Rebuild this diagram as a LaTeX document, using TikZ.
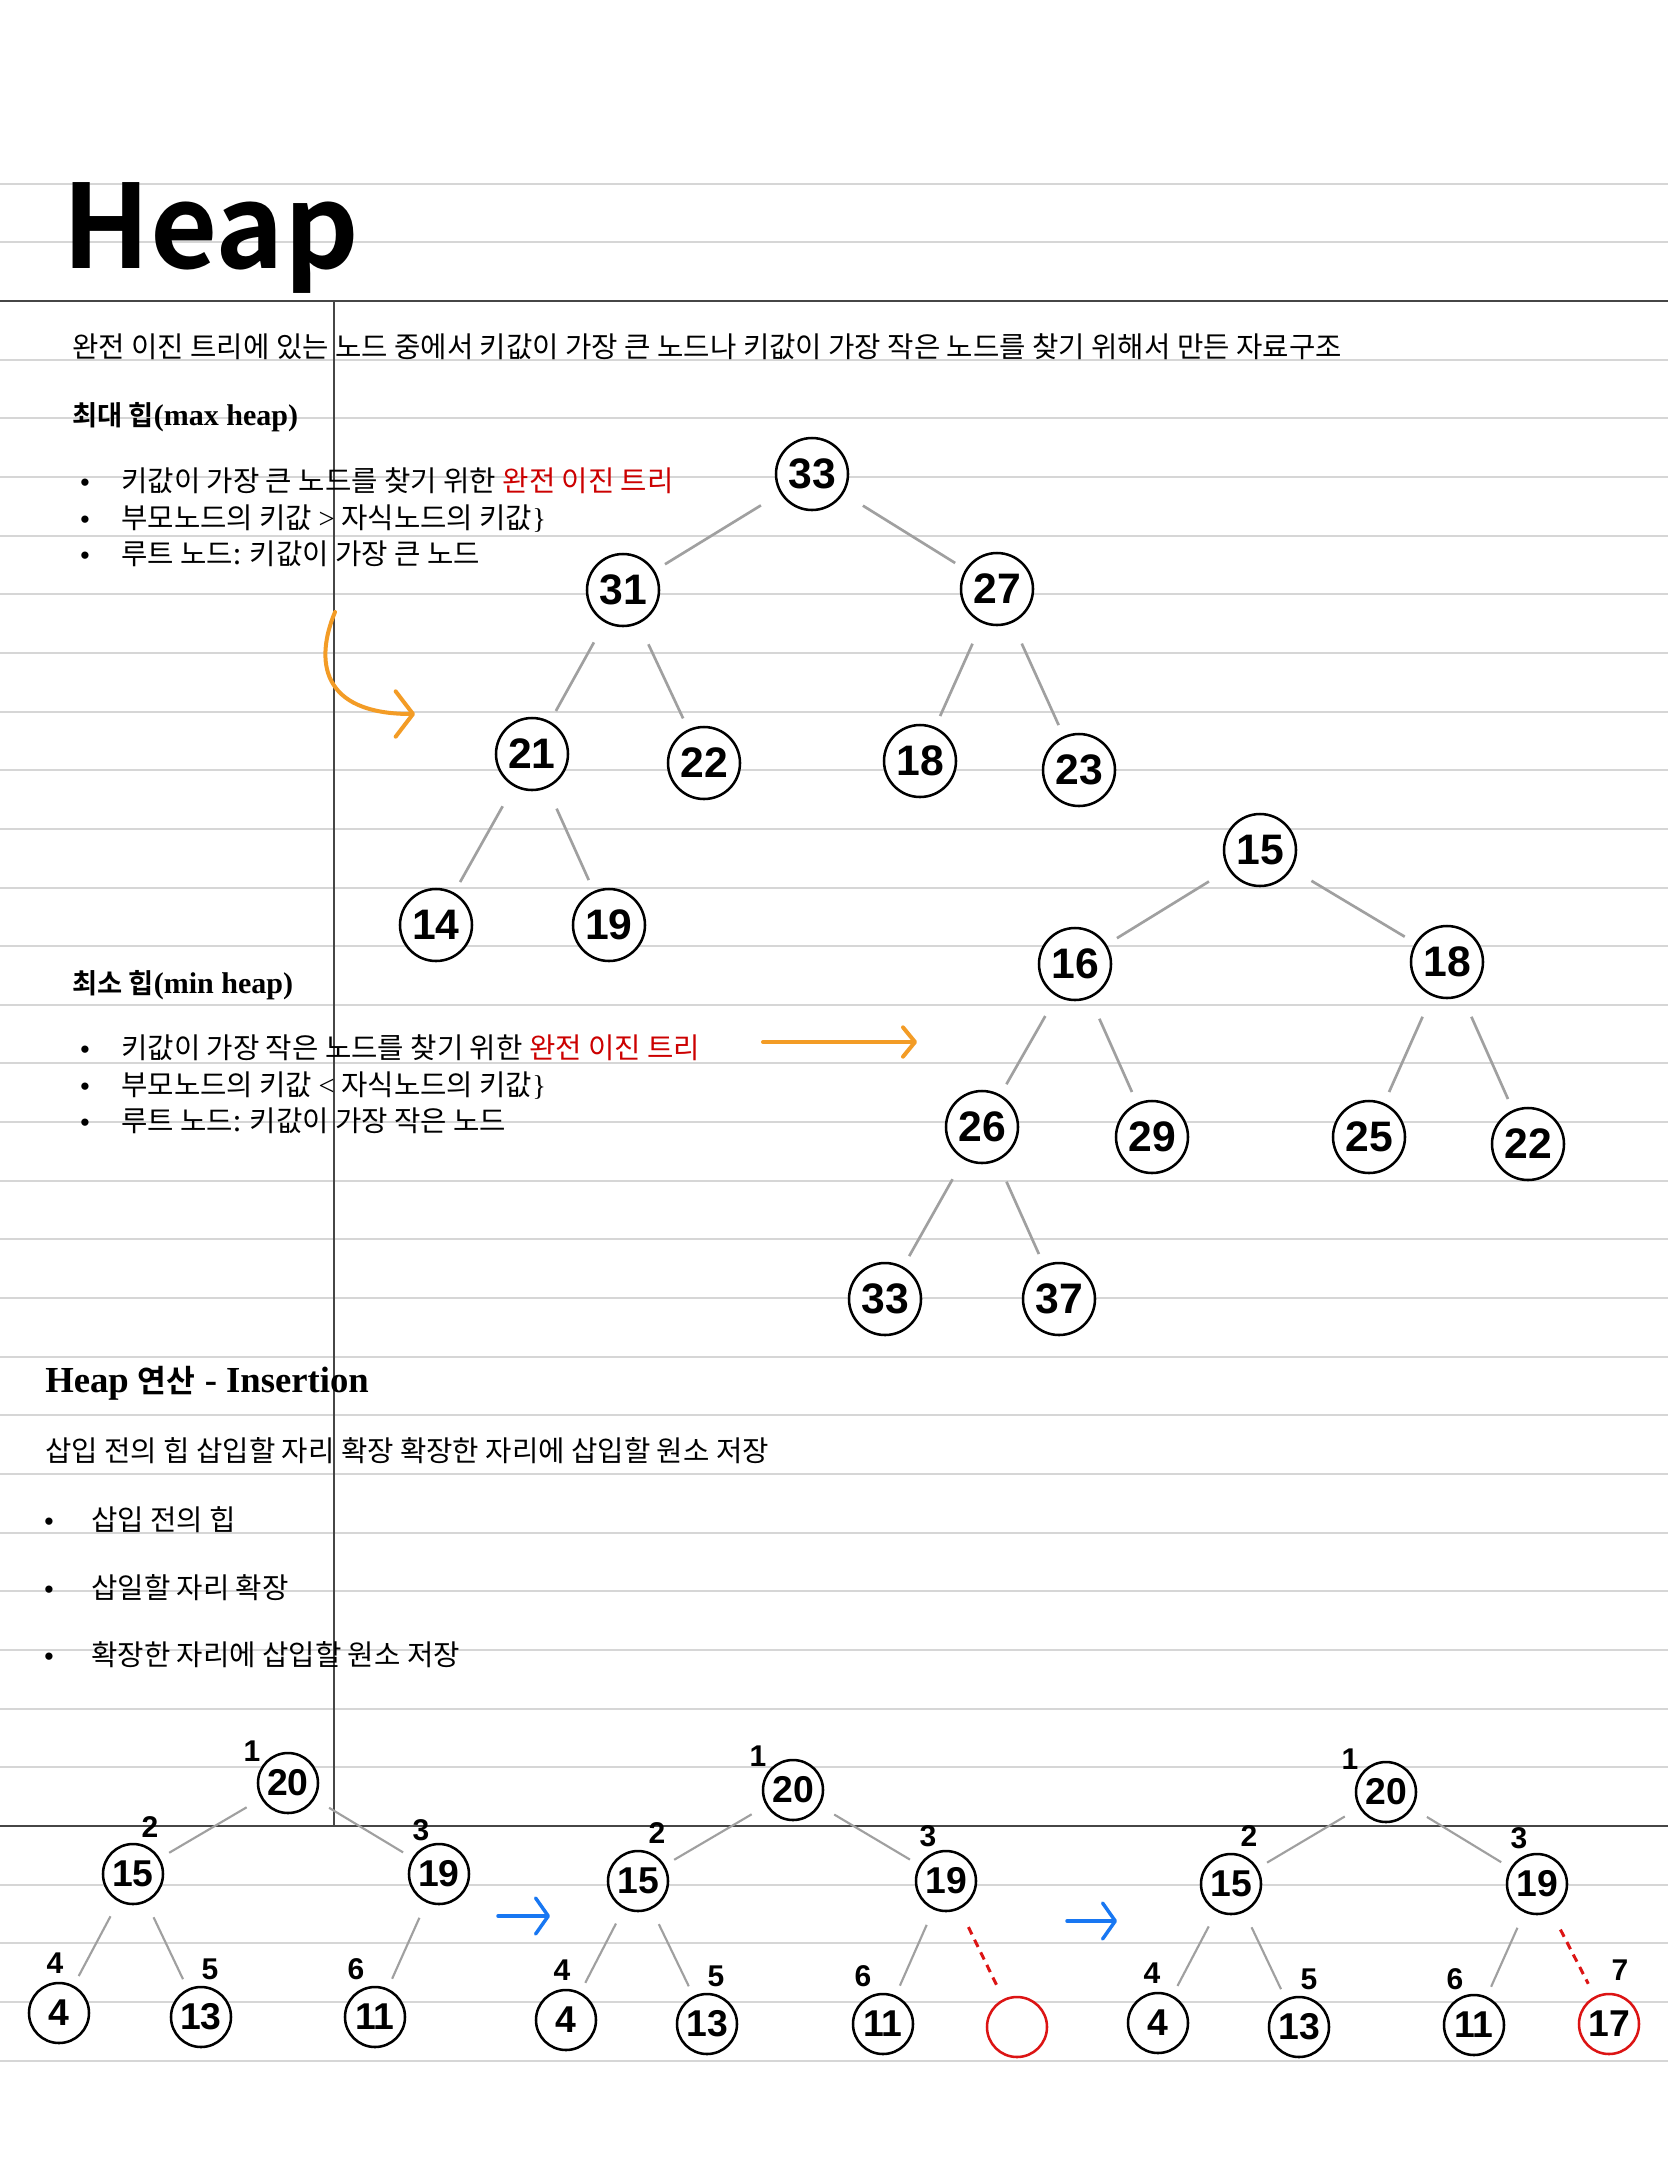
\documentclass[tikz,border=0pt]{standalone}
\usepackage{fontspec}
\setmainfont{Liberation Serif}
\newfontfamily\kr[BoldFont={Noto Sans CJK KR Bold}]{Noto Sans CJK KR}
\newfontfamily\hv{Liberation Sans}
\usetikzlibrary{arrows.meta}
\definecolor{gridgrey}{RGB}{214,214,214}
\definecolor{darkrule}{RGB}{70,70,70}
\definecolor{edgegrey}{RGB}{160,160,160}
\definecolor{arrorange}{RGB}{243,156,38}
\definecolor{arrblue}{RGB}{24,119,242}
\definecolor{hlred}{RGB}{220,20,20}
\definecolor{txtred}{RGB}{204,0,0}
\newcommand\fsz[1]{\fontsize{#1}{#1}\selectfont}
\tikzset{
  rule/.style={draw=gridgrey, line width=1.5pt},
  darkline/.style={draw=darkrule, line width=1.5pt},
  bigc/.style={circle, draw=black, line width=1.9pt, fill=white, minimum size=54pt, inner sep=0pt, font={\hv\bfseries\fsz{32}}},
  smallc/.style={circle, draw=black, line width=1.9pt, fill=white, minimum size=45pt, inner sep=0pt, font={\hv\bfseries\fsz{28}}},
  newc/.style={smallc, draw=hlred},
  idx/.style={inner sep=0pt, font={\hv\bfseries\fsz{22.5}}},
  edge/.style={draw=edgegrey, line width=2pt, shorten <=17pt, shorten >=9pt},
  sedge/.style={draw=edgegrey, line width=1.6pt, shorten <=12.5pt, shorten >=8pt},
  redge/.style={draw=hlred, line width=2.25pt, dash pattern=on 6pt off 4.5pt, shorten <=15pt, shorten >=10.5pt},
  txt/.style={anchor=base west, inner sep=0pt, font={\kr\fontsize{21.5}{26}\selectfont}},
  bul/.style={anchor=base, inner sep=0pt, font={\hv\fsz{20}}},
  orarrow/.style={draw=arrorange, line width=3pt, line cap=round, -{Straight Barb[length=13pt,width=34pt,round]}},
  blarrow/.style={draw=arrblue, line width=2.6pt, line cap=round, -{Straight Barb[length=9.5pt,width=27pt,round]}}
}
\begin{document}
\begin{tikzpicture}[x=0.75pt,y=-0.75pt]
\useasboundingbox (0,0) rectangle (1668,2157);
\fill[white] (0,0) rectangle (1668,2157);
% ruled lines
\foreach \k in {-2,...,30} {\draw[rule] (0,{301+58.65*\k}) -- (1668,{301+58.65*\k});}
\draw[darkline] (0,301) -- (1668,301);
\draw[darkline] (0,1826) -- (1668,1826);
\draw[darkline] (334,301) -- (334,1826);

% title
\node[anchor=base west, inner sep=0pt, font={\kr\bfseries\fsz{87}}] (title) at (62,268) {Heap};

% intro
\node[txt] (intro) at (72,357) {완전 이진 트리에 있는 노드 중에서 키값이 가장 큰 노드나 키값이 가장 작은 노드를 찾기 위해서 만든 자료구조};

% max heap section
\node[anchor=base west, inner sep=0pt] (maxh) at (72,425) {{\kr\bfseries\fsz{20.5}최대 힙}{\bfseries\fsz{22.5}(max heap)}};
\node[bul] (b1) at (85,491) {•};
\node[bul] (b2) at (85,528) {•};
\node[bul] (b3) at (85,564) {•};
\node[txt] (l1) at (121,491) {키값이 가장 큰 노드를 찾기 위한 \textcolor{txtred}{완전 이진 트리}};
\node[txt] (l2) at (121,528) {부모노드의 키값 {\rmfamily >} 자식노드의 키값{\rmfamily \}}};
\node[txt] (l3) at (121,564) {루트 노드: 키값이 가장 큰 노드};

% min heap section
\node[anchor=base west, inner sep=0pt] (minh) at (72,993) {{\kr\bfseries\fsz{20.5}최소 힙}{\bfseries\fsz{22.5}(min heap)}};
\node[bul] (c1) at (85,1058) {•};
\node[bul] (c2) at (85,1095) {•};
\node[bul] (c3) at (85,1131) {•};
\node[txt] (k1) at (121,1058) {키값이 가장 작은 노드를 찾기 위한 \textcolor{txtred}{완전 이진 트리}};
\node[txt] (k2) at (121,1095) {부모노드의 키값 {\rmfamily <} 자식노드의 키값{\rmfamily \}}};
\node[txt] (k3) at (121,1131) {루트 노드: 키값이 가장 작은 노드};

% insertion section
\node[anchor=base west, inner sep=0pt, font={\bfseries\fsz{27.5}}] (insh) at (45,1392) {Heap {\kr\bfseries\fsz{23.5}연산} - Insertion};
\node[txt] (insd) at (45,1461) {삽입 전의 힙 삽입할 자리 확장 확장한 자리에 삽입할 원소 저장};
\node[bul] (d1) at (49,1530) {•};
\node[bul] (d2) at (49,1598) {•};
\node[bul] (d3) at (49,1665) {•};
\node[txt] (j1) at (91,1530) {삽입 전의 힙};
\node[txt] (j2) at (91,1598) {삽일할 자리 확장};
\node[txt] (j3) at (91,1665) {확장한 자리에 삽입할 원소 저장};

% max heap tree
\node[bigc] (m33) at (812,474) {33};
\node[bigc] (m31) at (623,590) {31};
\node[bigc] (m27) at (997,589) {27};
\node[bigc] (m21) at (532,754) {21};
\node[bigc] (m22) at (704,763) {22};
\node[bigc] (m18) at (920,761) {18};
\node[bigc] (m23) at (1079,770) {23};
\node[bigc] (m14) at (436,925) {14};
\node[bigc] (m19) at (609,925) {19};
\draw[edge] (m33) -- (m31);
\draw[edge] (m33) -- (m27);
\draw[edge] (m31) -- (m21);
\draw[edge] (m31) -- (m22);
\draw[edge] (m27) -- (m18);
\draw[edge] (m27) -- (m23);
\draw[edge] (m21) -- (m14);
\draw[edge] (m21) -- (m19);

% min heap tree
\node[bigc] (n15) at (1260,850) {15};
\node[bigc] (n16) at (1075,964) {16};
\node[bigc] (n18) at (1447,962) {18};
\node[bigc] (n26) at (982,1127) {26};
\node[bigc] (n29) at (1152,1137) {29};
\node[bigc] (n25) at (1369,1137) {25};
\node[bigc] (n22) at (1528,1144) {22};
\node[bigc] (n33) at (885,1299) {33};
\node[bigc] (n37) at (1059,1299) {37};
\draw[edge] (n15) -- (n16);
\draw[edge] (n15) -- (n18);
\draw[edge] (n16) -- (n26);
\draw[edge] (n16) -- (n29);
\draw[edge] (n18) -- (n25);
\draw[edge] (n18) -- (n22);
\draw[edge] (n26) -- (n33);
\draw[edge] (n26) -- (n37);

% orange arrows
\coordinate (oa1) at (335,612);
\coordinate (oa2) at (415,714);
\draw[orarrow] (oa1) .. controls (315,660) and (320,714) .. (oa2);
\coordinate (ob1) at (763,1042);
\coordinate (ob2) at (917,1042);
\draw[draw=arrorange, line width=3pt, line cap=round, -{Straight Barb[length=9pt,width=22pt,round]}] (ob1) -- (ob2);

% insertion tree 1
\node[smallc] (a20) at (288,1783) {20};
\node[smallc] (a15) at (133,1874) {15};
\node[smallc] (a19) at (439,1874) {19};
\node[smallc] (a4) at (59,2013) {4};
\node[smallc] (a13) at (201,2017) {13};
\node[smallc] (a11) at (375,2017) {11};
\node[idx] (ai1) at (252,1751) {1};
\node[idx] (ai2) at (150,1827) {2};
\node[idx] (ai3) at (421,1830) {3};
\node[idx] (ai4) at (55,1963) {4};
\node[idx] (ai5) at (210,1969) {5};
\node[idx] (ai6) at (356,1969) {6};
\draw[sedge] (a20) -- (a15);
\draw[sedge] (a20) -- (a19);
\draw[sedge] (a15) -- (a4);
\draw[sedge] (a15) -- (a13);
\draw[sedge] (a19) -- (a11);

% blue arrow 1
\coordinate (ba1) at (498,1916);
\coordinate (ba2) at (550,1916);
\draw[blarrow] (ba1) -- (ba2);

% insertion tree 2
\node[smallc] (b20) at (793,1790) {20};
\node[smallc] (b15) at (638,1881) {15};
\node[smallc] (b19) at (946,1881) {19};
\node[smallc] (b4) at (566,2020) {4};
\node[smallc] (b13) at (707,2024) {13};
\node[smallc] (b11) at (883,2024) {11};
\node[newc] (bnew) at (1017,2027) {};
\node[idx] (bi1) at (758,1756) {1};
\node[idx] (bi2) at (657,1833) {2};
\node[idx] (bi3) at (928,1836) {3};
\node[idx] (bi4) at (562,1970) {4};
\node[idx] (bi5) at (716,1976) {5};
\node[idx] (bi6) at (863,1976) {6};
\draw[sedge] (b20) -- (b15);
\draw[sedge] (b20) -- (b19);
\draw[sedge] (b15) -- (b4);
\draw[sedge] (b15) -- (b13);
\draw[sedge] (b19) -- (b11);
\draw[redge] (b19) -- (bnew);

% blue arrow 2
\coordinate (bb1) at (1067,1921);
\coordinate (bb2) at (1117,1921);
\draw[blarrow] (bb1) -- (bb2);

% insertion tree 3
\node[smallc] (c20) at (1386,1792) {20};
\node[smallc] (c15) at (1231,1884) {15};
\node[smallc] (c19) at (1537,1884) {19};
\node[smallc] (c4) at (1158,2023) {4};
\node[smallc] (c13) at (1299,2027) {13};
\node[smallc] (c11) at (1474,2025) {11};
\node[newc] (c17) at (1609,2024) {17};
\node[idx] (ci1) at (1350,1759) {1};
\node[idx] (ci2) at (1249,1836) {2};
\node[idx] (ci3) at (1519,1838) {3};
\node[idx] (ci4) at (1152,1973) {4};
\node[idx] (ci5) at (1309,1979) {5};
\node[idx] (ci6) at (1455,1979) {6};
\node[idx] (ci7) at (1620,1970) {7};
\draw[sedge] (c20) -- (c15);
\draw[sedge] (c20) -- (c19);
\draw[sedge] (c15) -- (c4);
\draw[sedge] (c15) -- (c13);
\draw[sedge] (c19) -- (c11);
\draw[redge] (c19) -- (c17);
\end{tikzpicture}
\end{document}
